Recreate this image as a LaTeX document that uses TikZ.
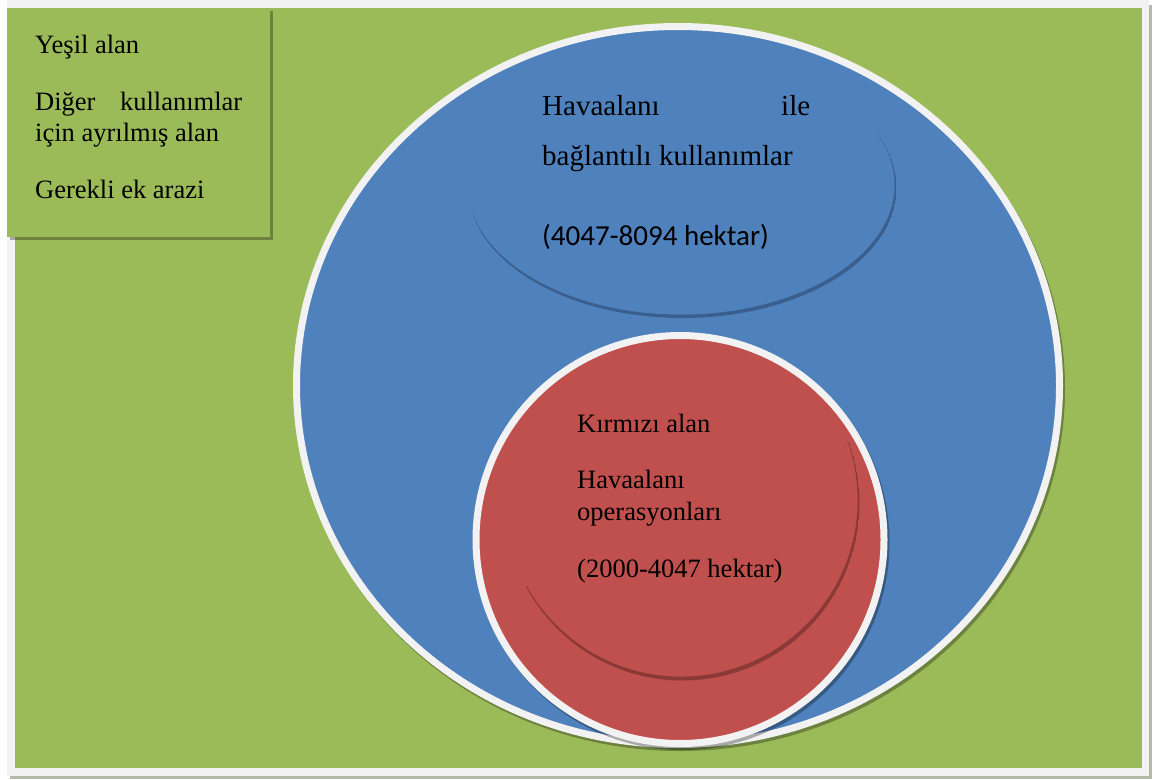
\documentclass[tikz,border=0pt]{standalone}
\usepackage{fontspec}
\setmainfont{Liberation Serif}
\newfontfamily\carlito{Carlito}
\definecolor{bggreen}{HTML}{9BBB59}
\definecolor{ringgray}{HTML}{F2F2F2}
\definecolor{blueA}{HTML}{4F81BD}
\definecolor{redA}{HTML}{C0504D}
\definecolor{frameshadow}{HTML}{B3BBA6}
\definecolor{blueedge}{HTML}{3A5F8E}
\definecolor{rededge}{HTML}{8A3936}
\begin{document}
\begin{tikzpicture}[x=1pt,y=-1pt,
  txt/.style={anchor=base west, inner sep=0pt, font=\fontsize{26.5}{31}\selectfont, text=black},
  btxt/.style={anchor=base west, inner sep=0pt, font=\fontsize{29}{34}\selectfont, text=black},
  dropshadow/.style={fill=black, opacity=0.3},
  ringline/.style={draw=ringgray, line width=7pt}]
\useasboundingbox (0,0) rectangle (1155,779);
\fill[white] (0,0) rectangle (1155,779);
% page frame
\fill[frameshadow] (10,5) rectangle (1152,779);
\fill[ringgray] (7,-1) rectangle (1149,776);
\fill[bggreen] (15,8) rectangle (1142,768);
% legend box
\fill[dropshadow] (10,11) rectangle (273,240);
\fill[bggreen] (7,8) rectangle (270,237);
% big blue circle
\fill[dropshadow] (680,388.5) ellipse [x radius=385, y radius=362.5];
\path[ringline, fill=blueA] (678,385.5) ellipse [x radius=381.5, y radius=359];
% inner top ellipse edge (shadow crescent)
\begin{scope}
  \clip (440,218) -- (681,190) -- (920,118) -- (920,340) -- (440,340) -- cycle;
  \clip (682.5,188) ellipse [x radius=214, y radius=130];
  \fill[blueedge, even odd rule] (682.5,188) ellipse [x radius=214, y radius=130]
        (681,185) ellipse [x radius=214, y radius=130];
  \draw[blueedge, line width=0.8pt, opacity=0.8] (681,185) ellipse [x radius=214, y radius=130];
\end{scope}
% red circle
\fill[dropshadow] (682,542.5) circle [radius=207.5];
\path[ringline, fill=redA] (680,539.5) circle [radius=204];
% inner red circle edge (shadow crescent)
\begin{scope}
  \clip (500,600) -- (681,505) -- (880,428) -- (880,700) -- (500,700) -- cycle;
  \clip (682.5,503.5) circle [radius=177];
  \fill[rededge, even odd rule] (682.5,503.5) circle [radius=177]
        (681,500) circle [radius=177];
  \draw[rededge, line width=0.8pt, opacity=0.8] (681,500) circle [radius=177];
\end{scope}
% legend text
\node[txt] (t1) at (35,53) {Yeşil alan};
\node[txt] (t2) at (35,110) {\makebox[207pt][s]{Diğer\hfill kullanımlar}};
\node[txt] (t3) at (35,141) {için ayrılmış alan};
\node[txt] (t4) at (35,198) {Gerekli ek arazi};
% blue text
\node[btxt] (b1) at (542,115) {\makebox[268pt][s]{Havaalanı\hfill ile}};
\node[btxt] (b2) at (542,165) {bağlantılı kullanımlar};
\node[btxt, font=\carlito\fontsize{29}{34}\selectfont] (b3) at (542,245) {(4047-8094 hektar)};
% red text
\node[txt] (r1) at (577,432) {Kırmızı alan};
\node[txt] (r2) at (577,488) {Havaalanı};
\node[txt] (r3) at (577,520) {operasyonları};
\node[txt] (r4) at (577,577) {(2000-4047 hektar)};
\end{tikzpicture}
\end{document}
